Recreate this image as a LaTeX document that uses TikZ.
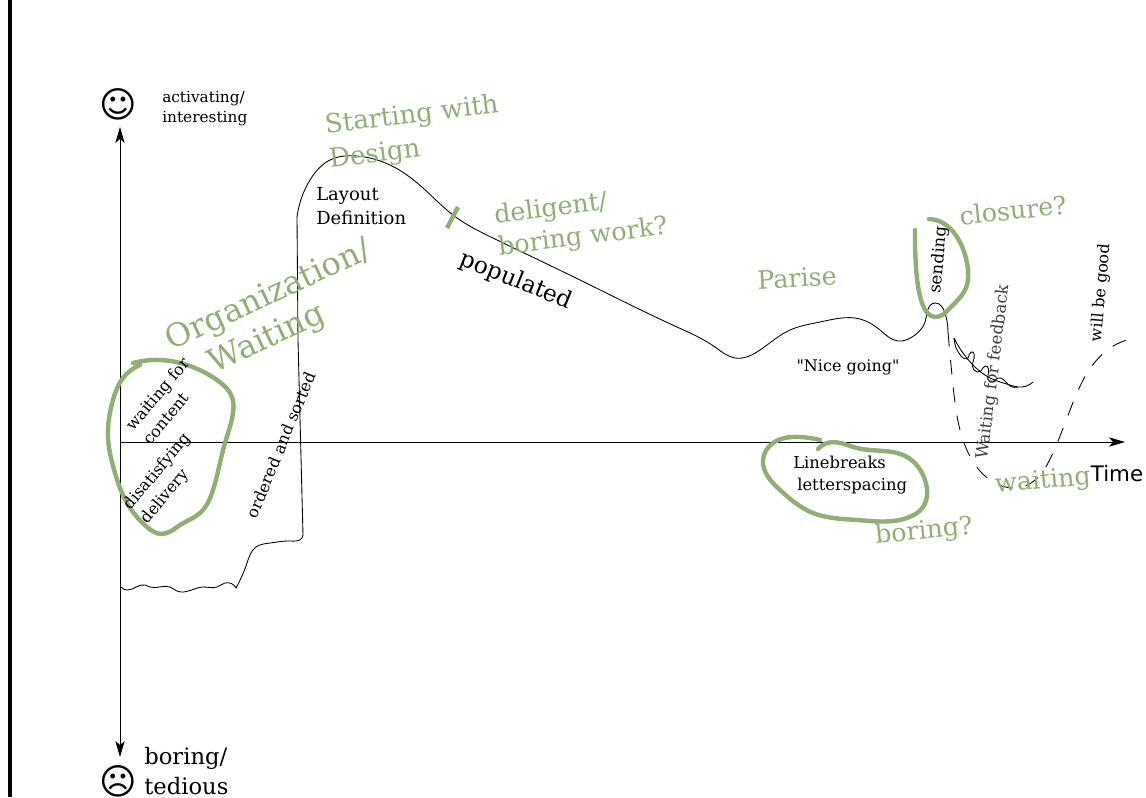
\documentclass[tikz,border=0pt]{standalone}
\usepackage{fontspec}
\setmainfont{DejaVu Serif}
\newfontfamily\sansfont{DejaVu Sans}
\newfontfamily\plainserif{DejaVu Serif}
\usetikzlibrary{arrows.meta, positioning, hobby}
\definecolor{sage}{HTML}{8FAF75}
\def\fs#1#2{\fontsize{#1}{#2}\selectfont}
\tikzset{
  note/.style={inner sep=0pt, align=left, text=black},
  greennote/.style={inner sep=0pt, align=left, text=sage},
  loop/.style={draw=sage, line width=3.3pt, line cap=round, use Hobby shortcut},
  curve/.style={draw=black, line width=0.65pt, use Hobby shortcut},
  axis/.style={draw=black, line width=0.65pt, -{Stealth[length=12pt, width=7pt, inset=3pt]}},
}
\begin{document}
\begin{tikzpicture}[x=0.75pt, y=-0.75pt]
\useasboundingbox (0,0) rectangle (1146,797);
\draw[line width=2.6pt] (10,0) -- (10,797);

\coordinate (origin) at (120,442);
\coordinate (top) at (120,127);
\coordinate (bottom) at (120,757);
\coordinate (end) at (1125,442);
\draw[axis] (origin) -- (top);
\draw[axis] (origin) -- (bottom);
\draw[axis] (origin) -- (end);

\node[note, font=\sansfont\fs{27}{27}] (smile) at (118,104) {☺};
\node[note, font=\sansfont\fs{27}{27}] (frown) at (118,781) {☹};
\node[note, anchor=west, font=\fs{11.5}{14.8}] (activating) at (162,108.5) {activating/\\interesting};
\node[note, anchor=west, font=\fs{17}{22}] (tedious) at (144,771) {boring/\\tedious};
\node[note, font=\sansfont\fs{16}{16}] (time) at (1117,474) {Time};

% the curve
\draw[curve] (121,587) .. (127,590) .. (145,585) .. (150,587) .. (170,587) .. (177,591) .. (203,587) .. (217,587) .. (225,583) .. (236,588);
\draw[curve] (236,588) .. (247,563) .. (256,547) .. (270,543) .. (290,541) .. (302,538) .. (303,535);
\draw[curve] (303,535) -- (298,340) -- (297,217);
\draw[curve] (297,217) .. (310,180) .. (330,160) .. (357,156) .. (390,165) .. (423,188) .. (453,215) .. (497,240) .. (580,280) .. (677,327) .. (715,347) .. (735,358) .. (760,350) .. (790,330) .. (820,322) .. (860,319) .. (880,330) .. (898,341) .. (915,335) .. (925,322) .. (935,303) .. (945,313) .. (948,332);
\draw[curve, dash pattern=on 11pt off 10pt] (948,332) .. (953,385) .. (966,448) .. (990,480) .. (1025,486) .. (1052,455) .. (1072,405) .. (1095,362) .. (1115,345) .. (1138,338);
\draw[curve] (954,338) .. (973,365) .. (990,378) .. (1010,385) .. (1018,387) .. (1033,382);
\draw[curve] (954,338) .. (961,356) .. (968,358) .. (971,352) .. (973,362) .. (974,370) .. (981,371) .. (985,366) .. (988,375) .. (990,382) .. (998,378) .. (1004,380) .. (1010,386) .. (1018,387);

% the loops
\draw[loop] (133,363) .. (160,360) .. (190,366) .. (217,380) .. (232,397) .. (233,413) .. (225,443) .. (213,490) .. (200,513) .. (180,525) .. (162,534) .. (147,527) .. (127,503) .. (115,473) .. (108,437) .. (113,400) .. (123,378) .. (140,365);
\draw[loop] (820,440) .. (800,437) .. (773,443) .. (763,460) .. (780,490) .. (813,513) .. (857,520) .. (907,518) .. (923,507) .. (925,480) .. (907,457) .. (857,448) .. (827,443) .. (818,449);
\draw[loop] (915,230) .. (916,267) .. (922,303) .. (935,317) .. (950,308) .. (965,290) .. (967,263) .. (957,237) .. (943,223) .. (929,219);
\coordinate (tickA) at (447,228);
\coordinate (tickB) at (458,207);
\draw[draw=sage, line width=3.3pt] (tickA) -- (tickB);

\node[greennote, rotate=7, font=\fs{19.5}{26}] (design) at (414,133) {Starting with\\Design};
\node[note, anchor=west, font=\fs{13.5}{18}] (layout) at (316,206) {Layout\\Definition};
\node[greennote, rotate=7, font=\fs{19}{24}] (deligent) at (581,222) {deligent/\\boring work?};
\node[note, rotate=-22, font=\fs{17.5}{17.5}] (populated) at (516,281) {populated};
\node[greennote, rotate=25, font=\fs{24}{29}] (organization) at (277,314) {Organization/\\\hspace*{22pt}Waiting};
\node[greennote, rotate=3, font=\fs{19}{19}] (parise) at (797,278) {Parise};
\node[note, font=\plainserif\fs{12}{12}] (going) at (848,367) {"Nice going"};
\node[greennote, rotate=6, font=\fs{19}{19}] (closure) at (1013,210) {closure?};
\node[note, rotate=85, font=\fs{12.5}{12.5}] (sending) at (939,260) {sending};
\node[note, rotate=83, text=black!75, font=\fs{12.5}{12.5}] (feedback) at (994,372) {Waiting for feedback};
\node[note, rotate=85, font=\fs{12}{12}] (good) at (1101,293) {will be good};
\node[greennote, rotate=5, font=\fs{19}{19}] (waiting) at (1043,482) {waiting};
\node[greennote, rotate=6, font=\fs{19}{19}] (boring) at (924,532) {boring?};
\node[note, anchor=west, font=\fs{12.3}{16.5}] (linebreaks) at (793,475.5) {Linebreaks\\\hspace*{3pt}letterspacing};
\node[note, rotate=50, font=\fs{12}{16.5}] (content) at (166,401) {waiting for\\content};
\node[note, rotate=50, font=\fs{12}{16.5}] (delivery) at (166,479) {disatisfying\\delivery};
\node[note, rotate=67.5, font=\fs{12}{12}] (sorted) at (281,445) {ordered and sorted};
\end{tikzpicture}
\end{document}
